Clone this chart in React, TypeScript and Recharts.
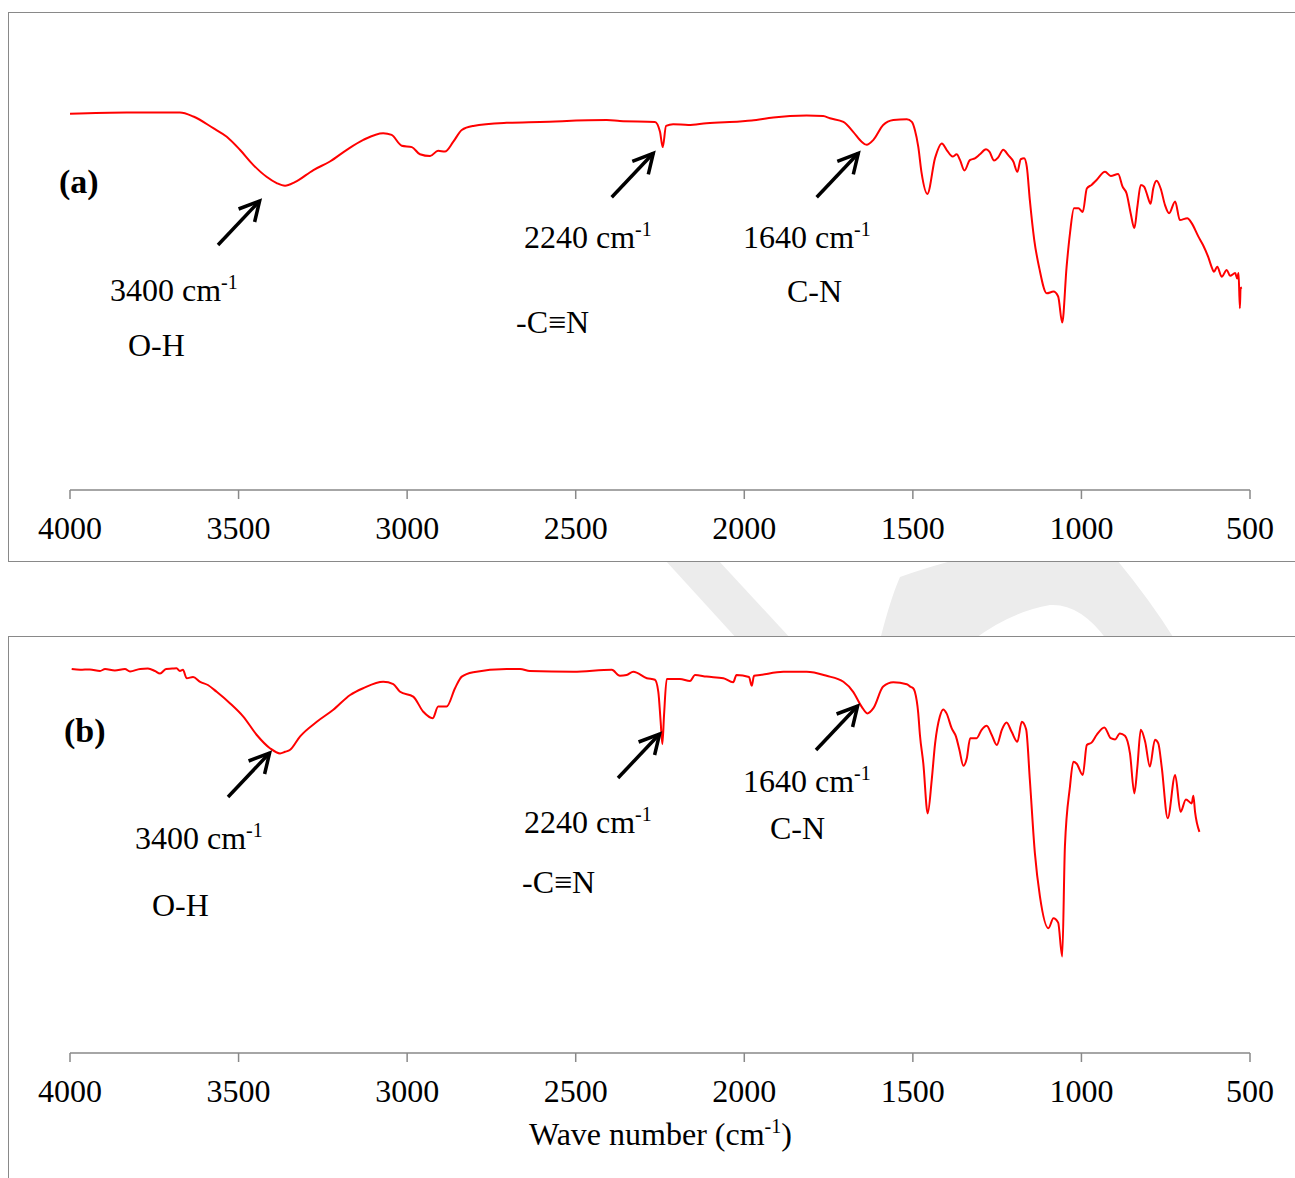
import React from "react";
import { LineChart, Line, XAxis, YAxis } from "recharts";

// FTIR spectra, wave number (cm-1) vs transmittance (arbitrary %)
const ticks = [4000, 3500, 3000, 2500, 2000, 1500, 1000, 500];

const wnA = [
  4000, 3832, 3674, 3634, 3575, 3535, 3496, 3456, 3417, 3387, 3362, 3333, 3278, 3229, 3179, 3130, 3071, 3046,
  3016, 2986, 2962, 2932, 2908, 2888, 2863, 2838, 2804, 2705, 2606, 2408, 2369, 2265, 2250, 2242, 2232, 2211,
  2166, 2112, 2013, 1978, 1914, 1815, 1766, 1746, 1706, 1677, 1652, 1637, 1617, 1588, 1558, 1518, 1503, 1494,
  1484, 1474, 1457, 1434, 1414, 1400, 1382, 1370, 1360, 1347, 1331, 1316, 1301, 1283, 1273, 1259, 1247, 1232,
  1217, 1202, 1190, 1180, 1170, 1162, 1153, 1140, 1125, 1103, 1083, 1069, 1057, 1044, 1034, 1022, 1009, 996,
  984, 970, 955, 930, 913, 891, 878, 866, 854, 843, 834, 824, 814, 805, 795, 787, 777, 765, 752, 740, 722, 708,
  686, 673, 653, 639, 624, 614, 607, 597, 584, 569, 559, 544, 538, 534, 530, 528, 524,
];
const tA = [
  83.6, 83.9, 83.9, 83.0, 80.4, 78.5, 75.6, 72.2, 69.6, 68.2, 67.6, 68.4, 71.1, 73.0, 75.6, 77.8, 79.3, 78.9,
  76.5, 76.2, 74.6, 74.2, 75.4, 75.2, 77.4, 80.0, 80.9, 81.6, 81.8, 82.2, 82.0, 81.8, 79.6, 76.2, 80.9, 81.3,
  81.1, 81.5, 81.9, 82.1, 82.8, 83.2, 83.1, 82.6, 81.8, 79.6, 77.4, 76.7, 77.8, 81.1, 82.2, 82.4, 81.8, 80.0,
  76.3, 70.4, 65.8, 73.8, 77.0, 75.6, 74.1, 74.6, 73.3, 71.0, 73.3, 73.7, 74.6, 75.7, 75.2, 73.2, 73.9, 75.6,
  74.4, 73.0, 70.7, 73.5, 73.7, 71.8, 64.4, 55.6, 49.3, 43.7, 44.1, 43.0, 37.2, 49.6, 57.0, 62.6, 62.6, 61.8,
  67.0, 67.8, 68.9, 70.7, 69.8, 70.2, 67.4, 65.9, 61.5, 58.2, 63.0, 67.8, 67.4, 65.6, 63.6, 67.0, 68.7, 67.0,
  63.3, 61.5, 64.1, 60.0, 60.4, 59.3, 56.3, 54.4, 51.8, 49.6, 48.5, 49.6, 47.4, 48.9, 47.6, 48.2, 47.0, 48.2,
  40.4, 44.8, 45.0,
];

const wnB = [
  3995, 3970, 3941, 3911, 3896, 3867, 3837, 3822, 3792, 3769, 3748, 3733, 3715, 3697, 3684, 3674, 3665, 3654,
  3635, 3614, 3591, 3565, 3525, 3486, 3446, 3407, 3377, 3362, 3347, 3318, 3268, 3219, 3169, 3130, 3071, 3041,
  3021, 2982, 2952, 2924, 2908, 2883, 2858, 2838, 2804, 2705, 2665, 2636, 2507, 2393, 2369, 2349, 2329, 2289,
  2265, 2255, 2248, 2243, 2238, 2230, 2191, 2161, 2146, 2112, 2062, 2033, 2023, 1986, 1978, 1971, 1953, 1884,
  1815, 1756, 1706, 1677, 1652, 1635, 1617, 1588, 1558, 1518, 1508, 1499, 1494, 1484, 1479, 1469, 1456, 1444,
  1434, 1420, 1410, 1400, 1385, 1372, 1362, 1350, 1340, 1330, 1311, 1296, 1281, 1266, 1251, 1236, 1222, 1207,
  1190, 1177, 1164, 1153, 1138, 1123, 1098, 1083, 1069, 1057, 1049, 1034, 1024, 1014, 996, 984, 970, 955, 932,
  913, 900, 886, 871, 856, 843, 834, 824, 811, 797, 782, 772, 762, 744, 722, 706, 690, 673, 668, 663, 650,
];
const tB = [
  96.0, 95.8, 95.9, 95.5, 96.0, 95.6, 96.0, 95.4, 96.0, 96.1, 95.5, 94.9, 96.0, 96.1, 96.2, 95.5, 95.8, 93.7,
  94.0, 92.8, 92.0, 90.3, 87.4, 84.1, 79.5, 76.2, 74.9, 75.3, 75.8, 79.1, 82.8, 85.8, 89.5, 91.2, 92.8, 92.2,
  90.3, 89.1, 85.3, 83.7, 86.6, 86.6, 91.2, 94.1, 95.2, 96.0, 96.0, 95.5, 95.3, 95.8, 94.3, 94.5, 95.3, 93.7,
  93.3, 90.3, 82.8, 77.2, 84.5, 93.5, 93.5, 93.0, 94.5, 94.1, 93.7, 92.7, 94.5, 94.0, 91.8, 94.3, 94.5, 95.3,
  95.3, 94.3, 92.8, 90.3, 86.6, 84.9, 86.2, 91.6, 92.7, 92.2, 91.6, 91.2, 90.3, 84.9, 79.5, 72.4, 59.9, 68.3,
  77.4, 84.1, 85.9, 84.9, 81.2, 79.1, 75.8, 71.8, 73.7, 78.7, 78.7, 80.8, 81.8, 79.5, 77.0, 80.8, 82.6, 80.3,
  77.8, 82.8, 80.9, 68.3, 49.9, 39.1, 31.2, 33.7, 32.6, 24.1, 51.6, 66.6, 72.8, 72.3, 69.5, 77.0, 77.6, 79.5, 81.4,
  78.7, 78.4, 79.9, 79.3, 74.9, 64.9, 71.6, 80.8, 77.8, 71.6, 78.3, 77.4, 71.6, 58.7, 69.5, 60.3, 63.4, 62.4, 64.3,
  60.3, 55.3,
];

const dataA = wnA.map((wn, i) => ({ wn, t: tA[i] }));
const dataB = wnB.map((wn, i) => ({ wn, t: tB[i] }));

const FONT = "'Liberation Serif', 'Times New Roman', serif";
const GRAY = "#898989";
const FS = 32;

const Tick = (props: any) => {
  const { x, y, payload } = props;
  return (
    <text x={x} y={y} dy={40} textAnchor="middle" fontFamily={FONT} fontSize={FS} fill="#000">
      {payload.value}
    </text>
  );
};

function Spectrum({ data, top, height, marginTop, axisHeight }: any) {
  return (
    <div style={{ position: "absolute", left: 0, top }}>
      <LineChart width={1295} height={height} data={data} margin={{ top: marginTop, right: 45, left: 70, bottom: 0 }}>
        <XAxis
          dataKey="wn"
          type="number"
          domain={[500, 4000]}
          reversed
          ticks={ticks}
          interval={0}
          allowDataOverflow
          height={axisHeight}
          tickSize={9}
          tickMargin={0}
          tick={<Tick />}
          axisLine={{ stroke: GRAY, strokeWidth: 1.5 }}
          tickLine={{ stroke: GRAY, strokeWidth: 1.5 }}
        />
        <YAxis hide domain={[0, 100]} />
        <Line type="monotone" dataKey="t" stroke="#ff0000" strokeWidth={2} dot={false} isAnimationActive={false} />
      </LineChart>
    </div>
  );
}

const Arrow = ({ x, y }: { x: number; y: number }) => {
  // tip at (x, y), tail down-left
  const tx = x - 41.6;
  const ty = y + 44;
  return (
    <g stroke="#000" strokeWidth={3.5} fill="none" strokeLinecap="butt">
      <line x1={tx} y1={ty} x2={x} y2={y} />
      <polyline points={`${x - 21},${y + 8} ${x},${y} ${x - 5},${y + 21}`} />
    </g>
  );
};

const Wave = ({ x, y, label }: { x: number; y: number; label: string }) => (
  <text x={x} y={y} fontFamily={FONT} fontSize={FS} fill="#000">
    {label} cm
    <tspan dy={-12} fontSize={20}>-1</tspan>
  </text>
);

const Plain = ({ x, y, children, bold }: any) => (
  <text x={x} y={y} fontFamily={FONT} fontSize={bold ? 34 : FS} fontWeight={bold ? "bold" : "normal"} fill="#000">
    {children}
  </text>
);

export default function App() {
  return (
    <div style={{ position: "absolute", left: 0, top: 0, width: 1295, height: 1178, overflow: "hidden", background: "#fff" }}>
      {/* faint watermark between the panels */}
      <svg width={1295} height={1178} style={{ position: "absolute", left: 0, top: 0 }}>
        <polygon points="665,560 718,560 792,640 738,640" fill="#ececec" />
        <path
          d="M955,560 L1117,560 Q1150,600 1175,640 L1107,640 Q1080,603 1050,605 Q1010,612 973,640 L880,640 Q890,600 900,577 Q925,568 955,560 Z"
          fill="#ececec"
        />
      </svg>

      <div style={{ position: "absolute", left: 8, top: 12, width: 1320, height: 548, border: `1.5px solid ${GRAY}`, background: "#fff" }} />
      <div style={{ position: "absolute", left: 8, top: 636, width: 1320, height: 600, border: `1.5px solid ${GRAY}`, background: "#fff" }} />

      <Spectrum data={dataA} top={0} height={562} marginTop={40} axisHeight={72} />
      <Spectrum data={dataB} top={600} height={578} marginTop={53} axisHeight={125} />

      <svg width={1295} height={1178} style={{ position: "absolute", left: 0, top: 0, pointerEvents: "none" }}>
        {/* panel (a) */}
        <Plain x={59} y={193} bold>(a)</Plain>
        <Arrow x={259.6} y={201} />
        <Wave x={110} y={301} label="3400" />
        <Plain x={128} y={356}>O-H</Plain>
        <Arrow x={653.3} y={153.3} />
        <Wave x={524} y={248} label="2240" />
        <Plain x={516} y={333}>-C≡N</Plain>
        <Arrow x={858.3} y={153.3} />
        <Wave x={743} y={248} label="1640" />
        <Plain x={787} y={302}>C-N</Plain>

        {/* panel (b) */}
        <Plain x={64} y={742} bold>(b)</Plain>
        <Arrow x={269.6} y={753} />
        <Wave x={135} y={849} label="3400" />
        <Plain x={152} y={916}>O-H</Plain>
        <Arrow x={659.6} y={734} />
        <Wave x={524} y={833} label="2240" />
        <Plain x={522} y={893}>-C≡N</Plain>
        <Arrow x={857.6} y={706} />
        <Wave x={743} y={792} label="1640" />
        <Plain x={770} y={839}>C-N</Plain>

        <text x={529} y={1145} fontFamily={FONT} fontSize={FS} fill="#000">
          Wave number (cm<tspan dy={-12} fontSize={20}>-1</tspan>
          <tspan dy={12}>)</tspan>
        </text>
      </svg>
    </div>
  );
}
